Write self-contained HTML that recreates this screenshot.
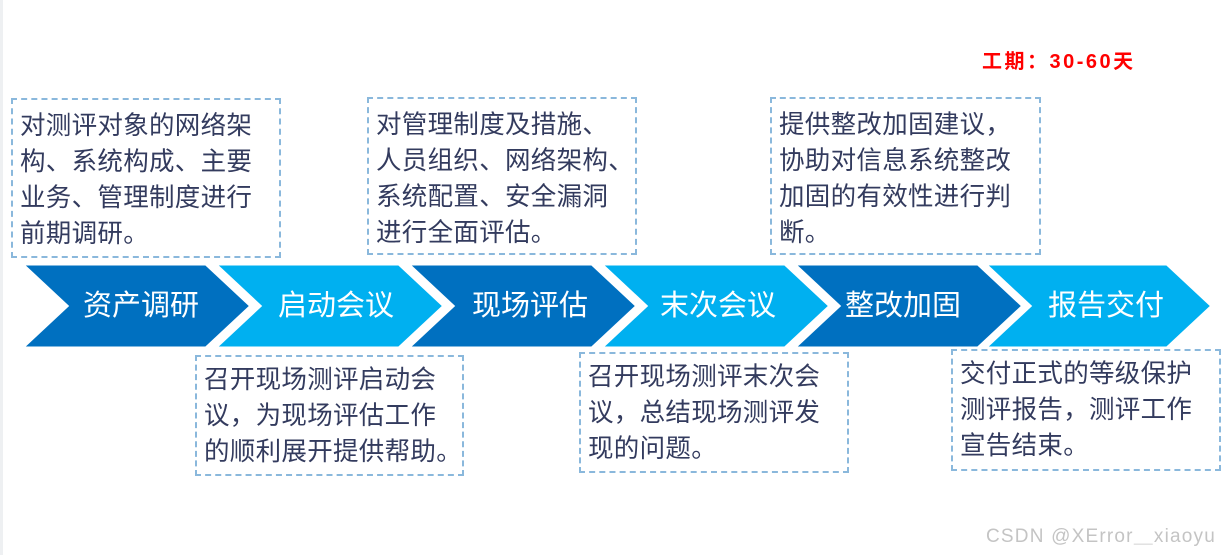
<!DOCTYPE html>
<html><head><meta charset="utf-8"><style>
html,body{margin:0;padding:0;background:#fff;}
body{width:1229px;height:555px;position:relative;overflow:hidden;font-family:"Liberation Sans","Noto Sans CJK SC",sans-serif;}
.box{position:absolute;border:2px dashed #8ab8dc;box-sizing:border-box;color:#333b5e;font-size:25.5px;letter-spacing:0.3px;line-height:36px;white-space:nowrap;padding:8px 0 0 7px;}
.lbl{position:absolute;color:#fff;font-size:29px;line-height:40px;top:286px;white-space:nowrap;}
</style></head><body>
<div style="position:absolute;left:0;top:0;width:3px;height:555px;background:#eef0f2"></div>
<div style="position:absolute;left:982px;top:49px;color:#ff0000;font-weight:bold;font-size:20px;letter-spacing:2.5px;line-height:26px;white-space:nowrap;">工期：30-60天</div>

<svg style="position:absolute;left:0;top:0" width="1229" height="555">
<g stroke="#fff" stroke-width="3" stroke-linejoin="miter">
<polygon points="22,264 206,264 251,306 206,348 22,348 67,306" fill="#0070c0"/>
<polygon points="215,264 399,264 444,306 399,348 215,348 260,306" fill="#00b0f0"/>
<polygon points="408,264 592,264 637,306 592,348 408,348 453,306" fill="#0070c0"/>
<polygon points="601,264 785,264 830,306 785,348 601,348 646,306" fill="#00b0f0"/>
<polygon points="794,264 978,264 1023,306 978,348 794,348 839,306" fill="#0070c0"/>
<polygon points="985,264 1167,264 1212,306 1167,348 985,348 1030,306" fill="#00b0f0"/>
</g>
</svg>
<div class="lbl" style="left:83px">资产调研</div>
<div class="lbl" style="left:278px">启动会议</div>
<div class="lbl" style="left:472px">现场评估</div>
<div class="lbl" style="left:660px">末次会议</div>
<div class="lbl" style="left:845px">整改加固</div>
<div class="lbl" style="left:1048px">报告交付</div>

<div class="box" style="left:11px;top:98px;width:270px;height:160px;">对测评对象的网络架<br>构、系统构成、主要<br>业务、管理制度进行<br>前期调研。</div>
<div class="box" style="left:367px;top:97px;width:270px;height:158px;">对管理制度及措施、<br>人员组织、网络架构、<br>系统配置、安全漏洞<br>进行全面评估。</div>
<div class="box" style="left:770px;top:97px;width:271px;height:158px;">提供整改加固建议，<br>协助对信息系统整改<br>加固的有效性进行判<br>断。</div>
<div class="box" style="left:195px;top:355px;width:269px;height:121px;padding-top:5px;">召开现场测评启动会<br>议，为现场评估工作<br>的顺利展开提供帮助。</div>
<div class="box" style="left:579px;top:352px;width:270px;height:121px;padding-top:5px;">召开现场测评末次会<br>议，总结现场测评发<br>现的问题。</div>
<div class="box" style="left:951px;top:349px;width:270px;height:122px;padding-top:5px;">交付正式的等级保护<br>测评报告，测评工作<br>宣告结束。</div>

<div style="position:absolute;left:986px;top:525px;color:#c4c4c4;font-size:19px;letter-spacing:1.2px;line-height:24px;white-space:nowrap;">CSDN @XError＿xiaoyu</div>
</body></html>
